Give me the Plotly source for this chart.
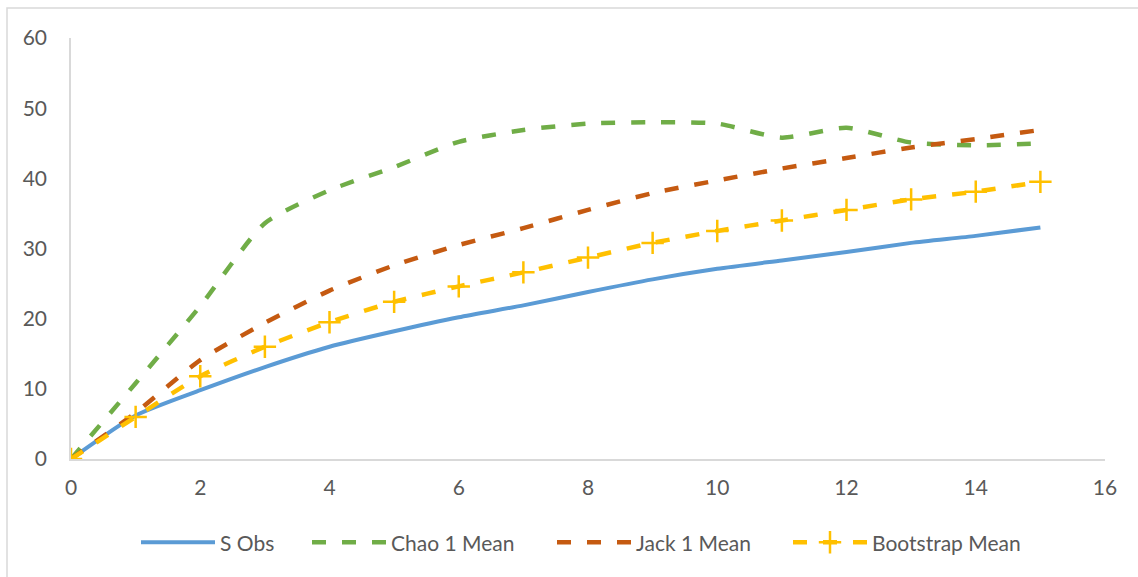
import plotly.graph_objects as go

x_vals = list(range(16))
s_obs = [0, 6.2, 9.8, 13.1, 16.0, 18.2, 20.2, 21.9, 23.8, 25.6, 27.1, 28.3, 29.5, 30.8, 31.8, 33.0]
chao1 = [0, 10.8, 21.8, 33.6, 38.3, 41.6, 45.2, 46.9, 47.8, 48.0, 47.8, 45.8, 47.2, 45.1, 44.7, 45.0]
jack1 = [0, 6.6, 14.1, 19.4, 24.0, 27.6, 30.5, 32.9, 35.5, 37.9, 39.7, 41.4, 42.9, 44.4, 45.6, 46.9]
boot = [0, 6.0, 11.8, 16.0, 19.5, 22.4, 24.6, 26.6, 28.7, 30.8, 32.5, 34.0, 35.5, 37.0, 38.1, 39.5]
y_ticks = [0, 10, 20, 30, 40, 50, 60]
x_ticks = [0, 2, 4, 6, 8, 10, 12, 14, 16]

FONT = "Lato, 'Open Sans', sans-serif"
GRAY = "#595959"
FS = 21

fig = go.Figure()
fig.add_trace(go.Scatter(x=x_vals, y=s_obs, name="S Obs", mode="lines", legend="legend",
                         line=dict(color="#5B9BD5", width=4, shape="spline", smoothing=0.6)))
fig.add_trace(go.Scatter(x=x_vals, y=chao1, name="Chao 1 Mean", mode="lines", legend="legend2",
                         line=dict(color="#70AD47", width=4.5, shape="spline", smoothing=0.6,
                                   dash="14px,16px")))
fig.add_trace(go.Scatter(x=x_vals, y=jack1, name="Jack 1 Mean", mode="lines", legend="legend3",
                         line=dict(color="#C55A11", width=4.5, shape="spline", smoothing=0.6,
                                   dash="14px,16px")))
fig.add_trace(go.Scatter(x=x_vals, y=boot, name="Bootstrap Mean", mode="lines+markers",
                         legend="legend4",
                         line=dict(color="#FFC000", width=4.5, shape="spline", smoothing=0.6,
                                   dash="14px,16px"),
                         marker=dict(symbol="cross-thin", size=16,
                                     line=dict(color="#FFC000", width=2.5))))

def px_x(p):
    return (p - 71) / 1034

leg_common = dict(orientation="h", y=-0.15, yanchor="top", xanchor="left",
                  font=dict(family=FONT, size=FS, color=GRAY), itemwidth=74,
                  bgcolor="rgba(0,0,0,0)", borderwidth=0)
entry_starts = [136, 307, 552, 788]

fig.update_layout(
    width=1138, height=577,
    margin=dict(l=71, r=33, t=38, b=118),
    paper_bgcolor="white", plot_bgcolor="white",
    font=dict(family=FONT, size=FS, color=GRAY),
    showlegend=True,
    legend=dict(x=px_x(entry_starts[0]), **leg_common),
    legend2=dict(x=px_x(entry_starts[1]), **leg_common),
    legend3=dict(x=px_x(entry_starts[2]), **leg_common),
    legend4=dict(x=px_x(entry_starts[3]), **leg_common),
    shapes=[dict(type="rect", xref="paper", yref="paper",
                 x0=(7 - 71) / 1034, x1=(1150 - 71) / 1034,
                 y0=(459 - 600) / 421, y1=(459 - 8) / 421,
                 line=dict(color="#D9D9D9", width=1.5), layer="below")],
)
fig.update_xaxes(range=[0, 16], tickvals=x_ticks, showgrid=False, zeroline=False,
                 showline=True, linecolor="#D9D9D9", linewidth=1.5,
                 ticks="outside", ticklen=9, tickcolor="rgba(0,0,0,0)",
                 tickfont=dict(size=FS, color=GRAY))
fig.update_yaxes(range=[0, 60], tickvals=y_ticks, showgrid=False, zeroline=False,
                 showline=True, linecolor="#D9D9D9", linewidth=1.5,
                 ticks="outside", ticklen=18, tickcolor="rgba(0,0,0,0)",
                 tickfont=dict(size=FS, color=GRAY))

fig.write_html("out.html")
